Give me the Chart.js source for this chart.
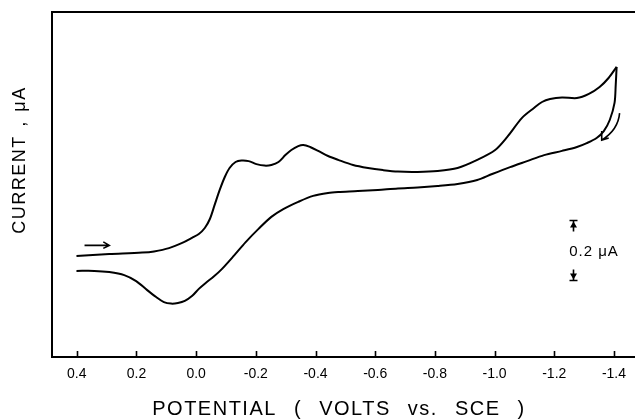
<!DOCTYPE html>
<html><head><meta charset="utf-8">
<script src="https://cdn.jsdelivr.net/npm/chart.js@4/dist/chart.umd.min.js"></script>
<style>html,body{margin:0;padding:0;background:#fff;}#wrap{width:635px;height:420px;}</style>
</head><body><div id="wrap"><canvas id="c" width="635" height="420"></canvas></div>
<script>
// Forward (cathodic) scan: potential (V vs SCE) and current (uA, arbitrary offset)
const forwardPotential = [0.401,0.291,0.181,0.141,0.091,0.041,0.014,-0.009,-0.029,-0.046,-0.062,-0.079,-0.096,-0.112,-0.132,-0.152,-0.176,-0.202,-0.229,-0.252,-0.276,-0.299,-0.319,-0.342,-0.359,-0.382,-0.409,-0.442,-0.476,-0.526,-0.576,-0.626,-0.676,-0.742,-0.809,-0.876,-0.942,-1.002,-1.042,-1.092,-1.132,-1.159,-1.186,-1.226,-1.276,-1.316,-1.352,-1.382,-1.409];
const forwardCurrent   = [0.337,0.343,0.348,0.352,0.363,0.383,0.397,0.410,0.430,0.460,0.507,0.557,0.600,0.630,0.650,0.655,0.653,0.643,0.638,0.640,0.650,0.673,0.690,0.703,0.707,0.700,0.687,0.670,0.657,0.640,0.630,0.623,0.618,0.617,0.620,0.630,0.657,0.690,0.733,0.797,0.830,0.850,0.860,0.865,0.863,0.877,0.900,0.930,0.967];
// Reverse (anodic) scan
const reversePotential = [-1.409,-1.406,-1.402,-1.386,-1.366,-1.342,-1.309,-1.276,-1.226,-1.166,-1.109,-1.052,-0.992,-0.942,-0.876,-0.809,-0.742,-0.676,-0.609,-0.542,-0.476,-0.442,-0.392,-0.342,-0.292,-0.252,-0.209,-0.166,-0.126,-0.086,-0.059,-0.032,-0.009,0.014,0.038,0.061,0.084,0.108,0.134,0.164,0.201,0.241,0.291,0.341,0.401];
const reverseCurrent   = [0.967,0.907,0.847,0.790,0.753,0.730,0.713,0.700,0.687,0.673,0.653,0.633,0.610,0.590,0.577,0.570,0.565,0.562,0.557,0.553,0.550,0.547,0.537,0.517,0.493,0.467,0.427,0.383,0.337,0.293,0.268,0.247,0.227,0.203,0.187,0.180,0.178,0.183,0.200,0.223,0.253,0.273,0.283,0.287,0.287];
const tickValues = [0.4,0.2,0.0,-0.2,-0.4,-0.6,-0.8,-1.0,-1.2,-1.4];
const tickLabels = ["0.4","0.2","0.0","-0.2","-0.4","-0.6","-0.8","-1.0","-1.2","-1.4"];
const xTitle = "POTENTIAL ( VOLTS vs. SCE )";
const yTitle = "CURRENT , \u03BCA";
const scaleBarLabel = "0.2 \u03BCA";
const scaleBarSize = 0.2;

const toPts = (xs, ys) => xs.map((x, i) => ({x: x, y: ys[i]}));
const FONT = "'Liberation Sans', Arial, sans-serif";

const decor = {
  id: 'decor',
  afterDraw(chart) {
    const {ctx, chartArea: a, scales: {x, y}} = chart;
    ctx.save();
    ctx.strokeStyle = '#000'; ctx.fillStyle = '#000';
    ctx.lineWidth = 2; ctx.lineCap = 'butt';
    // frame: top, left, bottom
    ctx.beginPath();
    ctx.moveTo(a.left, a.top); ctx.lineTo(635, a.top);
    ctx.moveTo(a.left, a.top - 1); ctx.lineTo(a.left, a.bottom + 1);
    ctx.moveTo(a.left - 1, a.bottom); ctx.lineTo(635, a.bottom);
    ctx.stroke();
    // inward tick marks
    ctx.lineWidth = 1.6;
    ctx.beginPath();
    tickValues.forEach(v => { const px = Math.round(x.getPixelForValue(v)) + 0.5; ctx.moveTo(px, a.bottom); ctx.lineTo(px, a.bottom - 6); });
    ctx.stroke();
    // scan-direction arrow at start
    const ax0 = x.getPixelForValue(0.374), ax1 = x.getPixelForValue(0.291), ay = y.getPixelForValue(0.372);
    ctx.beginPath(); ctx.moveTo(ax0, ay); ctx.lineTo(ax1, ay);
    ctx.moveTo(ax1 - 6, ay - 3.5); ctx.lineTo(ax1, ay); ctx.lineTo(ax1 - 6, ay + 3);
    ctx.stroke();
    // curved return arrow near switching potential
    const c0 = [x.getPixelForValue(-1.419), y.getPixelForValue(0.813)];
    const c1 = [x.getPixelForValue(-1.414), y.getPixelForValue(0.757)];
    const c2 = [x.getPixelForValue(-1.359), y.getPixelForValue(0.723)];
    ctx.beginPath(); ctx.moveTo(c0[0], c0[1]); ctx.quadraticCurveTo(c1[0], c1[1], c2[0], c2[1]);
    ctx.moveTo(c2[0], c2[1] - 9); ctx.lineTo(c2[0], c2[1]); ctx.lineTo(c2[0] + 7, c2[1] - 2);
    ctx.stroke();
    // scale bar
    const sx = 573.5;
    const yb = y.getPixelForValue(0.255), yt = y.getPixelForValue(0.255 + scaleBarSize);
    ctx.lineWidth = 1.6;
    ctx.beginPath();
    ctx.moveTo(sx - 4, yt); ctx.lineTo(sx + 4, yt);
    ctx.moveTo(sx, yt); ctx.lineTo(sx, yt + 11);
    ctx.moveTo(sx - 4, yb); ctx.lineTo(sx + 4, yb);
    ctx.moveTo(sx, yb); ctx.lineTo(sx, yb - 11);
    ctx.stroke();
    ctx.beginPath();
    ctx.moveTo(sx, yt + 1); ctx.lineTo(sx - 3.5, yt + 7); ctx.lineTo(sx + 3.5, yt + 7); ctx.closePath();
    ctx.moveTo(sx, yb - 1); ctx.lineTo(sx - 3.5, yb - 7); ctx.lineTo(sx + 3.5, yb - 7); ctx.closePath();
    ctx.fill();
    ctx.font = '15px ' + FONT; ctx.textAlign = 'center'; ctx.textBaseline = 'middle';
    try { ctx.letterSpacing = '1px'; } catch (e) {}
    ctx.fillText(scaleBarLabel, 594, (yb + yt) / 2 + 1);
    // axis titles
    ctx.font = '20px ' + FONT;
    try { ctx.letterSpacing = '1.5px'; ctx.wordSpacing = '10px'; } catch (e) {}
    ctx.fillText(xTitle, 339, 409);
    ctx.save();
    ctx.translate(20, 160); ctx.rotate(-Math.PI / 2);
    ctx.font = '18px ' + FONT;
    try { ctx.letterSpacing = '1.5px'; ctx.wordSpacing = '2px'; } catch (e) {}
    ctx.fillText(yTitle, 0, 0);
    ctx.restore();
    ctx.restore();
  }
};

new Chart(document.getElementById('c'), {
  type: 'scatter',
  data: {
    datasets: [
      {label: 'forward', data: toPts(forwardPotential, forwardCurrent)},
      {label: 'reverse', data: toPts(reversePotential, reverseCurrent)}
    ]
  },
  options: {
    responsive: false, animation: false, devicePixelRatio: 1,
    showLine: true,
    elements: {
      line: {borderColor: '#000', borderWidth: 2, tension: 0.3, fill: false},
      point: {radius: 0, hoverRadius: 0}
    },
    layout: {padding: {left: 52, top: 12, right: 0, bottom: 0}},
    plugins: {legend: {display: false}, tooltip: {enabled: false}},
    scales: {
      x: {
        type: 'linear', reverse: true, min: -1.459, max: 0.483,
        afterBuildTicks: s => { s.ticks = tickValues.map(v => ({value: v})); },
        afterFit: s => { s.height = 63; },
        grid: {display: true, drawOnChartArea: false, drawTicks: false},
        border: {display: false},
        ticks: {callback: (v, i) => tickLabels[i], color: '#000', font: {family: FONT, size: 14}, padding: 9, maxRotation: 0, autoSkip: false}
      },
      y: {display: false, min: 0, max: 1.15}
    }
  },
  plugins: [decor]
});
</script></body></html>
